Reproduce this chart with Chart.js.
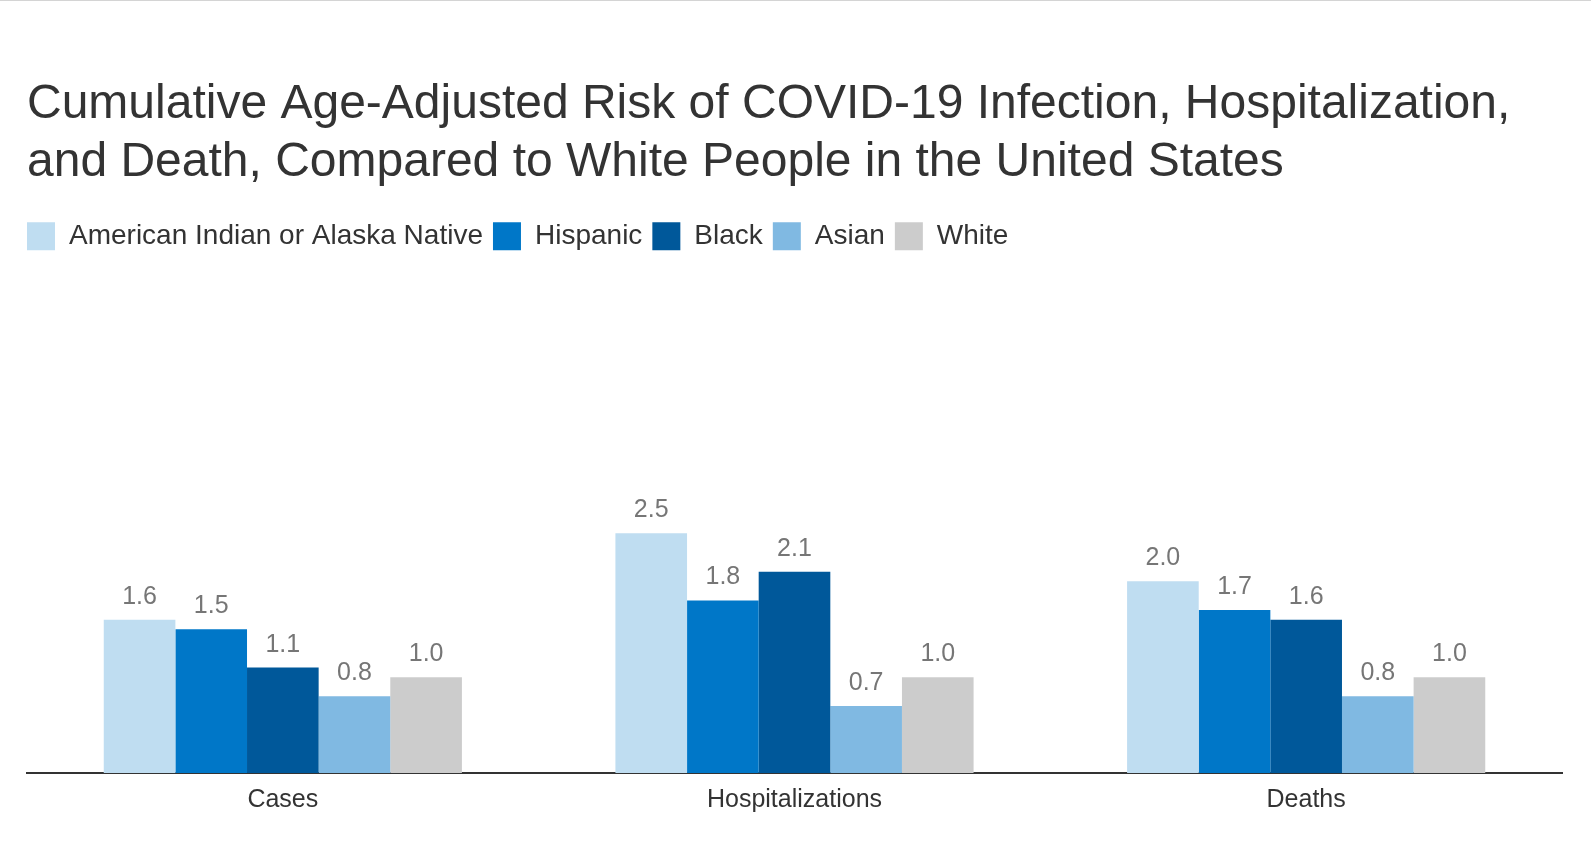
<!DOCTYPE html>
<html>
<head>
<meta charset="utf-8">
<title>Cumulative Age-Adjusted Risk of COVID-19</title>
<script src="https://cdn.jsdelivr.net/npm/chart.js@4.4.0/dist/chart.umd.min.js"></script>
<style>
  html, body { margin: 0; padding: 0; background: #fff; }
  #wrap { position: relative; width: 1591px; height: 845px; }
  #topline { position: absolute; left: 0; top: 0; width: 100%; height: 1px; background: #d4d4d4; }
</style>
</head>
<body>
<div id="wrap">
  <canvas id="riskChart"></canvas>
  <div id="topline"></div>
</div>
<script>
// data
const categories = ['Cases', 'Hospitalizations', 'Deaths'];
const groups = ['American Indian or Alaska Native', 'Hispanic', 'Black', 'Asian', 'White'];
const aianValues = [1.6, 2.5, 2.0];
const hispanicValues = [1.5, 1.8, 1.7];
const blackValues = [1.1, 2.1, 1.6];
const asianValues = [0.8, 0.7, 0.8];
const whiteValues = [1.0, 1.0, 1.0];
const groupColors = ['#BFDDF1', '#0077C8', '#00589A', '#80B9E2', '#CCCCCC'];

const FONT = "'Liberation Sans', Arial, sans-serif";

Chart.defaults.font.family = FONT;
Chart.defaults.color = '#333333';

// value labels above each bar
const valueLabels = {
  id: 'valueLabels',
  afterDatasetsDraw(chart) {
    const ctx = chart.ctx;
    ctx.save();
    ctx.font = '25px ' + FONT;
    ctx.fillStyle = '#767676';
    ctx.textAlign = 'center';
    ctx.textBaseline = 'alphabetic';
    chart.data.datasets.forEach((ds, i) => {
      chart.getDatasetMeta(i).data.forEach((bar, j) => {
        ctx.fillText(ds.data[j].toFixed(1), bar.x, bar.y - 16);
      });
    });
    ctx.restore();
  }
};

// pull the legend flush with the title's left edge
const legendShift = {
  id: 'legendShift',
  afterLayout(chart) {
    const pad = chart.options.plugins.legend.labels.padding;
    chart.legend.left -= pad;
  }
};

const seriesValues = [aianValues, hispanicValues, blackValues, asianValues, whiteValues];

new Chart(document.getElementById('riskChart'), {
  type: 'bar',
  data: {
    labels: categories,
    datasets: groups.map((g, i) => ({
      label: g,
      data: seriesValues[i],
      backgroundColor: groupColors[i],
      borderWidth: 0,
      categoryPercentage: 0.7,
      barPercentage: 1.0
    }))
  },
  options: {
    responsive: true,
    maintainAspectRatio: false,
    animation: false,
    layout: { padding: { top: 76, left: 27, right: 29, bottom: 18 } },
    plugins: {
      title: {
        display: true,
        align: 'start',
        text: ['Cumulative Age-Adjusted Risk of COVID-19 Infection, Hospitalization,',
               'and Death, Compared to White People in the United States'],
        color: '#333333',
        font: { size: 48, weight: 'normal', lineHeight: 1.2 },
        padding: { top: 0, bottom: 21 }
      },
      legend: {
        display: true,
        position: 'top',
        align: 'start',
        labels: {
          boxWidth: 28,
          boxHeight: 28,
          padding: 10,
          color: '#333333',
          font: { size: 28 }
        }
      },
      tooltip: { enabled: false }
    },
    scales: {
      x: {
        grid: { display: false, drawTicks: false },
        border: { display: true, color: '#333333', width: 2 },
        ticks: { color: '#333333', font: { size: 25 }, padding: 12 }
      },
      y: {
        display: false,
        min: 0,
        max: 5.35
      }
    }
  },
  plugins: [valueLabels, legendShift]
});
</script>
</body>
</html>
